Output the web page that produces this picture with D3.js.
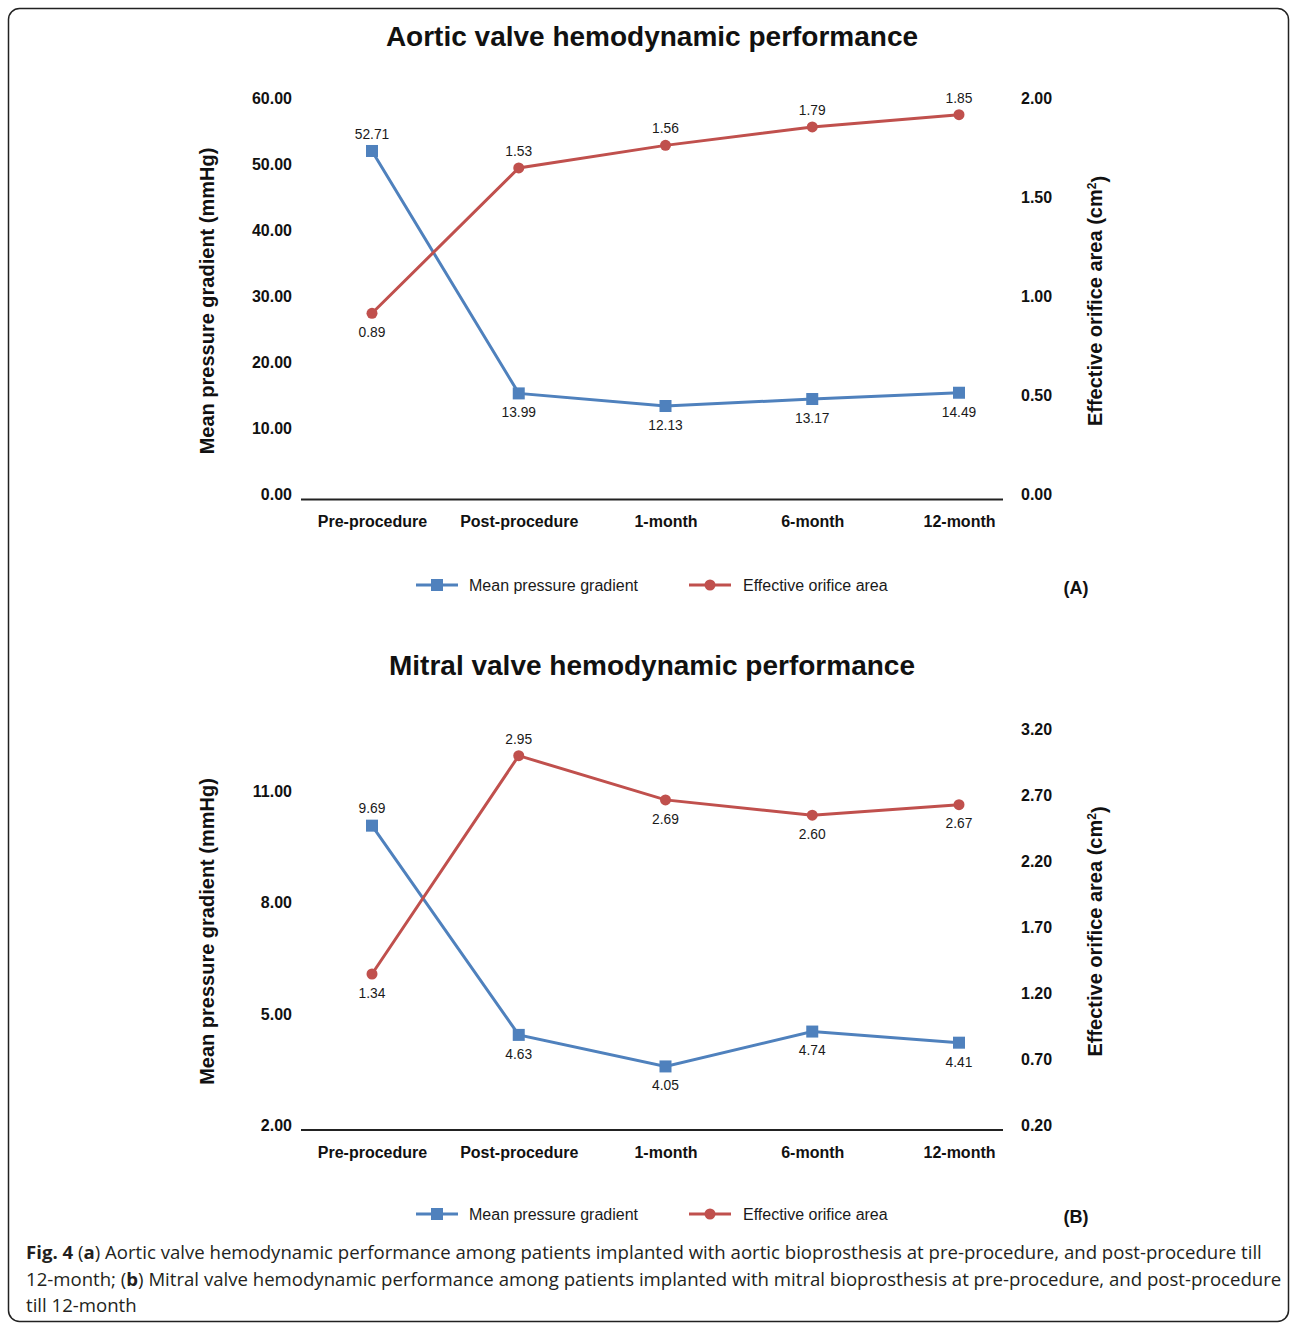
<!DOCTYPE html>
<html>
<head>
<meta charset="utf-8">
<script src="https://cdn.jsdelivr.net/npm/d3@7"></script>
<style>
  html, body { margin: 0; padding: 0; background: #fff; }
  svg { display: block; }
  text { font-family: "Liberation Sans", Arial, sans-serif; fill: #111; }
</style>
</head>
<body>
<div id="figure"></div>
<script>
// Categories on the x axis (both panels)
const categories = ["Pre-procedure", "Post-procedure", "1-month", "6-month", "12-month"];

// Panel A - aortic valve (plotted positions, labels as printed)
const aorticMPG = [52.73, 16.0, 14.09, 15.15, 16.1];
const aorticMPGLabels = ["52.71", "13.99", "12.13", "13.17", "14.49"];
const aorticEOA = [0.938, 1.672, 1.786, 1.879, 1.941];
const aorticEOALabels = ["0.89", "1.53", "1.56", "1.79", "1.85"];
const aorticLeftTicks = [0, 10, 20, 30, 40, 50, 60];
const aorticRightTicks = [0, 0.5, 1, 1.5, 2];

// Panel B - mitral valve
const mitralMPG = [10.19, 4.55, 3.70, 4.64, 4.34];
const mitralMPGLabels = ["9.69", "4.63", "4.05", "4.74", "4.41"];
const mitralEOA = [1.378, 3.032, 2.697, 2.581, 2.661];
const mitralEOALabels = ["1.34", "2.95", "2.69", "2.60", "2.67"];
const mitralLeftTicks = [2, 5, 8, 11];
const mitralRightTicks = [0.2, 0.7, 1.2, 1.7, 2.2, 2.7, 3.2];

const blue = "#4F81BD";
const red = "#C0504D";

const svg = d3.select("#figure")
    .append("svg")
    .attr("width", 1292)
    .attr("height", 1324);

// Outer frame
svg.append("rect")
    .attr("x", 8.5).attr("y", 8.5)
    .attr("width", 1280).attr("height", 1313)
    .attr("rx", 11)
    .attr("fill", "none")
    .attr("stroke", "#222")
    .attr("stroke-width", 1.5);

const xScale = d3.scalePoint()
    .domain(categories)
    .range([372, 959]);

function drawPanel(cfg) {
    const g = svg.append("g");

    const yLeft = d3.scaleLinear().domain(cfg.leftDomain).range([cfg.bottom, cfg.top]);
    const yRight = d3.scaleLinear().domain(cfg.rightDomain).range([cfg.bottom, cfg.top]);

    // Title
    g.append("text")
        .attr("x", 652).attr("y", cfg.titleY)
        .attr("text-anchor", "middle")
        .style("font-size", "28px")
        .style("font-weight", "bold")
        .text(cfg.title);

    // Left axis
    g.append("g")
        .attr("transform", "translate(301,0)")
        .call(d3.axisLeft(yLeft).tickValues(cfg.leftTicks).tickSize(0).tickPadding(9).tickFormat(d3.format(".2f")))
        .call(a => a.select(".domain").remove())
        .call(a => a.selectAll("text")
            .attr("dy", "0.05em")
            .style("font-family", "'Liberation Sans', Arial, sans-serif")
            .style("font-size", "16px").style("font-weight", "bold").style("fill", "#111"));

    // Right axis
    g.append("g")
        .attr("transform", "translate(1003,0)")
        .call(d3.axisRight(yRight).tickValues(cfg.rightTicks).tickSize(0).tickPadding(18).tickFormat(d3.format(".2f")))
        .call(a => a.select(".domain").remove())
        .call(a => a.selectAll("text")
            .attr("dy", "0.05em")
            .style("font-family", "'Liberation Sans', Arial, sans-serif")
            .style("font-size", "16px").style("font-weight", "bold").style("fill", "#111"));

    // Category axis
    g.append("g")
        .attr("transform", `translate(0,${cfg.bottom})`)
        .call(d3.axisBottom(xScale).tickSize(0).tickPadding(17))
        .call(a => a.select(".domain").remove())
        .call(a => a.selectAll("text")
            .style("font-family", "'Liberation Sans', Arial, sans-serif")
            .style("font-size", "16px").style("font-weight", "bold").style("fill", "#111"));

    g.append("line")
        .attr("x1", 301).attr("x2", 1003)
        .attr("y1", cfg.bottom + 0.5).attr("y2", cfg.bottom + 0.5)
        .attr("stroke", "#222").attr("stroke-width", 2);

    // Axis titles
    g.append("text")
        .attr("transform", `translate(207,${(cfg.top + cfg.bottom) / 2}) rotate(-90)`)
        .attr("text-anchor", "middle")
        .attr("dy", "0.35em")
        .style("font-size", "20px").style("font-weight", "bold")
        .text("Mean pressure gradient (mmHg)");

    const rt = g.append("text")
        .attr("transform", `translate(1095,${(cfg.top + cfg.bottom) / 2}) rotate(-90)`)
        .attr("text-anchor", "middle")
        .attr("dy", "0.35em")
        .style("font-size", "20px").style("font-weight", "bold");
    rt.append("tspan").text("Effective orifice area (cm");
    rt.append("tspan").attr("dy", "-0.5em").style("font-size", "12px").text("2");
    rt.append("tspan").attr("dy", "0.5em").text(")");

    const line = (scale) => d3.line()
        .x((d, i) => xScale(categories[i]))
        .y(d => scale(d));

    // Mean pressure gradient series
    g.append("path")
        .datum(cfg.mpg)
        .attr("d", line(yLeft))
        .attr("fill", "none")
        .attr("stroke", blue)
        .attr("stroke-width", 3);

    g.selectAll(".sq")
        .data(cfg.mpg)
        .enter().append("rect")
        .attr("x", (d, i) => xScale(categories[i]) - 6)
        .attr("y", d => yLeft(d) - 6)
        .attr("width", 12).attr("height", 12)
        .attr("fill", blue);

    // Effective orifice area series
    g.append("path")
        .datum(cfg.eoa)
        .attr("d", line(yRight))
        .attr("fill", "none")
        .attr("stroke", red)
        .attr("stroke-width", 3);

    g.selectAll(".dot")
        .data(cfg.eoa)
        .enter().append("circle")
        .attr("cx", (d, i) => xScale(categories[i]))
        .attr("cy", d => yRight(d))
        .attr("r", 5.5)
        .attr("fill", red);

    // Data labels
    const addLabels = (vals, labels, scale, pos) => {
        g.selectAll(null)
            .data(vals)
            .enter().append("text")
            .attr("x", (d, i) => xScale(categories[i]))
            .attr("y", (d, i) => scale(d) + (pos[i] === "above" ? -17 : 19))
            .attr("dy", "0.35em")
            .attr("text-anchor", "middle")
            .style("font-size", "13.8px")
            .style("fill", "#1a1a1a")
            .text((d, i) => labels[i]);
    };
    addLabels(cfg.mpg, cfg.mpgLabels, yLeft, cfg.mpgPos);
    addLabels(cfg.eoa, cfg.eoaLabels, yRight, cfg.eoaPos);

    // Legend
    const ly = cfg.legendY;
    g.append("line").attr("x1", 416).attr("x2", 458).attr("y1", ly).attr("y2", ly)
        .attr("stroke", blue).attr("stroke-width", 3);
    g.append("rect").attr("x", 431).attr("y", ly - 6).attr("width", 12).attr("height", 12).attr("fill", blue);
    g.append("text").attr("x", 469).attr("y", ly).attr("dy", "0.35em")
        .style("font-size", "16px").style("fill", "#1a1a1a").text("Mean pressure gradient");

    g.append("line").attr("x1", 689).attr("x2", 731).attr("y1", ly).attr("y2", ly)
        .attr("stroke", red).attr("stroke-width", 3);
    g.append("circle").attr("cx", 710).attr("cy", ly).attr("r", 5.5).attr("fill", red);
    g.append("text").attr("x", 743).attr("y", ly).attr("dy", "0.35em")
        .style("font-size", "16px").style("fill", "#1a1a1a").text("Effective orifice area");

    g.append("text").attr("x", 1076).attr("y", ly + 3).attr("dy", "0.35em")
        .attr("text-anchor", "middle")
        .style("font-size", "18px").style("font-weight", "bold")
        .text(cfg.tag);
}

drawPanel({
    title: "Aortic valve hemodynamic performance",
    titleY: 46,
    top: 103, bottom: 499,
    leftDomain: [0, 60], rightDomain: [0, 2],
    leftTicks: aorticLeftTicks, rightTicks: aorticRightTicks,
    mpg: aorticMPG, mpgLabels: aorticMPGLabels,
    eoa: aorticEOA, eoaLabels: aorticEOALabels,
    mpgPos: ["above", "below", "below", "below", "below"],
    eoaPos: ["below", "above", "above", "above", "above"],
    legendY: 585, tag: "(A)"
});

drawPanel({
    title: "Mitral valve hemodynamic performance",
    titleY: 675,
    top: 733.5, bottom: 1129.5,
    leftDomain: [2, 2 + 396 / 37.1], rightDomain: [0.2, 3.2],
    leftTicks: mitralLeftTicks, rightTicks: mitralRightTicks,
    mpg: mitralMPG, mpgLabels: mitralMPGLabels,
    eoa: mitralEOA, eoaLabels: mitralEOALabels,
    mpgPos: ["above", "below", "below", "below", "below"],
    eoaPos: ["below", "above", "below", "below", "below"],
    legendY: 1214, tag: "(B)"
});

// Caption
const capLines = [
    [["Fig. 4", true], [" (", false], ["a", true], [") Aortic valve hemodynamic performance among patients implanted with aortic bioprosthesis at pre-procedure, and post-procedure till", false]],
    [["12-month; (", false], ["b", true], [") Mitral valve hemodynamic performance among patients implanted with mitral bioprosthesis at pre-procedure, and post-procedure", false]],
    [["till 12-month", false]]
];
const cap = svg.append("text")
    .attr("x", 26)
    .style("font-family", "'Open Sans', 'Noto Sans', sans-serif")
    .style("font-size", "18.6px")
    .style("fill", "#231f20");
capLines.forEach((ln, i) => {
    ln.forEach((part, j) => {
        const t = cap.append("tspan").text(part[0]).style("font-weight", part[1] ? "bold" : "normal");
        if (j === 0) t.attr("x", 26).attr("y", 1259 + i * 26.5);
    });
});
</script>
</body>
</html>
